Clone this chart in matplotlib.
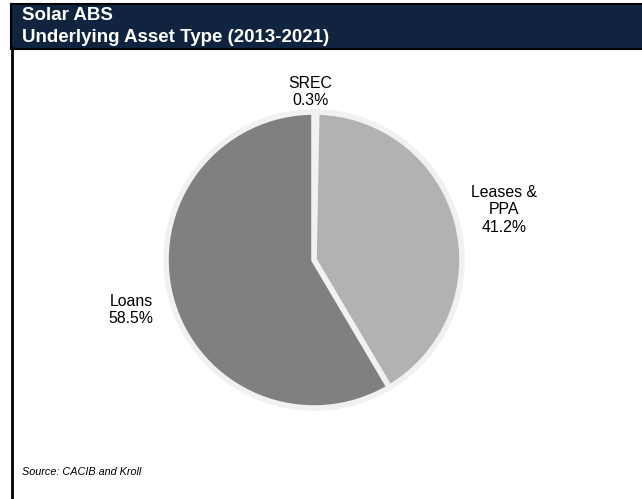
import matplotlib
matplotlib.use('Agg')
import matplotlib.pyplot as plt
import numpy as np
from matplotlib.patches import Rectangle
from matplotlib.lines import Line2D

plt.rcParams['font.family'] = ['Liberation Sans', 'DejaVu Sans']

categories = ['SREC', 'Leases &\nPPA', 'Loans']
shares = [0.3, 41.2, 58.5]
colors = ['#d0d0d0', '#b2b2b2', '#808080']
# label placement (distance from centre in radii, angle tweak in degrees)
label_dist = [1.135, 1.33, 1.28]
label_shift = [1.7, 0, 0]

fig = plt.figure(figsize=(6.42, 4.99), dpi=100)
W, H = 642, 499

# header bar
fig.patches.append(Rectangle((11 / W, 1 - 49 / H), 1, 45 / H, transform=fig.transFigure,
                             facecolor='#10233f', edgecolor='black', linewidth=1.5))
# left rule
fig.lines.append(Line2D([12 / W, 12 / W], [0, 1 - 48 / H], transform=fig.transFigure,
                        color='black', linewidth=2))
fig.text(22 / W, 1 - 15 / H, 'Solar ABS', color='white', fontsize=13.5, fontweight='bold',
         va='center', ha='left')
fig.text(22 / W, 1 - 37 / H, 'Underlying Asset Type (2013-2021)', color='white', fontsize=13.5,
         fontweight='bold', va='center', ha='left')
fig.text(22 / W, 1 - 472 / H, 'Source: CACIB and Kroll', fontsize=7.8, style='italic',
         va='center', ha='left')

cx, cy, r = 314, 260, 148
ax = fig.add_axes([(cx - r) / W, (H - cy - r) / H, 2 * r / W, 2 * r / H])
wedges, _ = ax.pie(shares, colors=colors, startangle=90, counterclock=False,
                   wedgeprops=dict(edgecolor='#f1f1f1', linewidth=4))
ax.set_xlim(-1, 1)
ax.set_ylim(-1, 1)
ax.set_aspect('equal')

for w, name, val, d, s in zip(wedges, categories, shares, label_dist, label_shift):
    ang = np.deg2rad((w.theta1 + w.theta2) / 2 + s)
    ax.text(d * np.cos(ang), d * np.sin(ang), f'{name}\n{val:.1f}%', ha='center', va='center',
            fontsize=11.4, linespacing=1.2, clip_on=False)

fig.savefig('out.png', dpi=100)
